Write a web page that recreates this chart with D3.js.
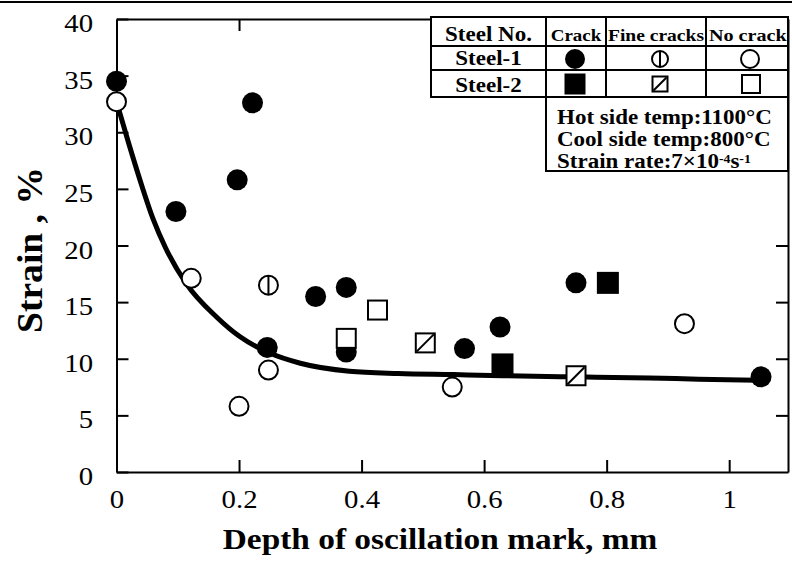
<!DOCTYPE html>
<html>
<head>
<meta charset="utf-8">
<script src="https://cdn.jsdelivr.net/npm/d3@7"></script>
<style>
  body { margin: 0; background: #fff; }
  svg { display: block; }
</style>
</head>
<body>
<svg id="chart" width="792" height="568"></svg>
<script>
// Strain versus depth of oscillation mark, two steels, three crack classes.
const steel1Crack = [[0, 34.5], [0.097, 23.0], [0.197, 25.8], [0.222, 32.6], [0.246, 11.0],
                     [0.325, 15.5], [0.375, 16.3], [0.375, 10.6], [0.568, 10.9], [0.626, 12.8],
                     [0.75, 16.7], [1.052, 8.4]];
const steel1Fine  = [[0.248, 16.5]];
const steel1None  = [[0, 32.7], [0.122, 17.1], [0.2, 5.8], [0.248, 9.0], [0.548, 7.5], [0.927, 13.1]];
const steel2Crack = [[0.63, 9.5], [0.802, 16.7]];
const steel2Fine  = [[0.504, 11.4], [0.75, 8.5]];
const steel2None  = [[0.375, 11.8], [0.426, 14.3]];

// Trend curve through the data
const trendX = [0, 0.02, 0.04, 0.06, 0.08, 0.113, 0.165, 0.2, 0.25, 0.3, 0.38, 0.46, 0.55, 0.63, 0.75, 0.87, 0.95, 1.05];
const trendY = [32.7, 29.0, 25.5, 22.3, 19.8, 16.7, 13.6, 12.0, 10.5, 9.6, 8.9, 8.7, 8.6, 8.5, 8.4, 8.3, 8.2, 8.1];

const xTicks = [0, 0.2, 0.4, 0.6, 0.8, 1];
const yTicks = [0, 5, 10, 15, 20, 25, 30, 35, 40];
const topTicks = [0.2];
const rightTicks = [5, 10, 15, 20];

const xTitle = "Depth of oscillation mark, mm";
const yTitle = "Strain , %";
const legendHead = ["Steel No.", "Crack", "Fine cracks", "No crack"];
const legendRows = ["Steel-1", "Steel-2"];

const SERIF = "'Liberation Serif', 'Times New Roman', serif";
const SX = 1.15; // horizontal stretch of the lettering

const svg = d3.select("#chart");
const x = d3.scaleLinear().domain([0, 1.096]).range([116.5, 788]);
const y = d3.scaleLinear().domain([0, 40]).range([472, 19]);

// page rule along the top edge
svg.append("line").attr("x1", 0).attr("x2", 792).attr("y1", 2).attr("y2", 2)
  .attr("stroke", "#000").attr("stroke-width", 2);

function styleAxis(g) {
  g.attr("font-family", null).attr("font-size", null);
  g.select(".domain").attr("stroke", "#000").attr("stroke-width", 2);
  g.selectAll(".tick line").attr("stroke", "#000").attr("stroke-width", 2);
  g.selectAll(".tick text").attr("fill", "#000")
    .style("font-family", SERIF).style("font-size", "25px");
}

// frame axes, ticks pointing inward
const gBottom = svg.append("g").attr("transform", `translate(0,${y(0)})`)
  .call(d3.axisBottom(x).tickValues(xTicks).tickFormat(d3.format("~g"))
    .tickSize(-12).tickSizeOuter(0).tickPadding(18));
styleAxis(gBottom);
gBottom.selectAll(".tick text").attr("transform", `scale(${SX},1)`);

const leftPad = 23.5;
const gLeft = svg.append("g").attr("transform", `translate(${x(0)},0)`)
  .call(d3.axisLeft(y).tickValues(yTicks).tickFormat(d3.format("d"))
    .tickSize(-12).tickSizeOuter(0).tickPadding(leftPad));
styleAxis(gLeft);
gLeft.selectAll(".tick text").attr("x", -leftPad / SX).attr("dy", "0.5em")
  .attr("transform", `scale(${SX},1)`);

const gTop = svg.append("g").attr("transform", `translate(0,${y(40)})`)
  .call(d3.axisTop(x).tickValues(topTicks).tickFormat("").tickSize(-12).tickSizeOuter(0));
styleAxis(gTop);

const gRight = svg.append("g").attr("transform", `translate(${x.range()[1]},0)`)
  .call(d3.axisRight(y).tickValues(rightTicks).tickFormat("").tickSize(-12).tickSizeOuter(0));
styleAxis(gRight);

// axis titles
svg.append("text")
  .attr("transform", `translate(440,549) scale(${SX},1)`)
  .attr("text-anchor", "middle")
  .style("font-family", SERIF).style("font-size", "29px").style("font-weight", "bold")
  .text(xTitle);

svg.append("text")
  .attr("transform", `translate(42,250) scale(${SX},1) rotate(-90)`)
  .attr("text-anchor", "middle")
  .attr("textLength", 166).attr("lengthAdjust", "spacingAndGlyphs")
  .style("font-family", SERIF).style("font-size", "31px").style("font-weight", "bold")
  .text(yTitle);

// trend curve
const trend = trendX.map((v, i) => [v, trendY[i]]);
svg.append("path")
  .datum(trend)
  .attr("fill", "none").attr("stroke", "#000").attr("stroke-width", 5)
  .attr("stroke-linecap", "round").attr("stroke-linejoin", "round")
  .attr("d", d3.line().x(d => x(d[0])).y(d => y(d[1])).curve(d3.curveMonotoneX));

// marker glyphs
function marker(g, kind, cx, cy, s) {
  const h = s / 2;
  if (kind === "circleFilled") {
    g.append("circle").attr("cx", cx).attr("cy", cy).attr("r", h).attr("fill", "#000");
  } else if (kind === "circleOpen" || kind === "circleFine") {
    g.append("circle").attr("cx", cx).attr("cy", cy).attr("r", h - 1)
      .attr("fill", "#fff").attr("stroke", "#000").attr("stroke-width", 2);
    if (kind === "circleFine") {
      g.append("line").attr("x1", cx).attr("x2", cx).attr("y1", cy - h + 1).attr("y2", cy + h - 1)
        .attr("stroke", "#000").attr("stroke-width", 2);
    }
  } else if (kind === "squareFilled") {
    g.append("rect").attr("x", cx - h).attr("y", cy - h).attr("width", s).attr("height", s).attr("fill", "#000");
  } else {
    g.append("rect").attr("x", cx - h + 1).attr("y", cy - h + 1).attr("width", s - 2).attr("height", s - 2)
      .attr("fill", "#fff").attr("stroke", "#000").attr("stroke-width", 2);
    if (kind === "squareFine") {
      g.append("line").attr("x1", cx - h + 2).attr("y1", cy + h - 2).attr("x2", cx + h - 2).attr("y2", cy - h + 2)
        .attr("stroke", "#000").attr("stroke-width", 2);
    }
  }
}

const series = [
  { data: steel1Crack, kind: "circleFilled", size: 21 },
  { data: steel1None,  kind: "circleOpen",   size: 21 },
  { data: steel1Fine,  kind: "circleFine",   size: 21 },
  { data: steel2None,  kind: "squareOpen",   size: 21 },
  { data: steel2Fine,  kind: "squareFine",   size: 21 },
  { data: steel2Crack, kind: "squareFilled", size: 22 }
];
const gMarks = svg.append("g");
series.forEach(s => s.data.forEach(d => marker(gMarks, s.kind, x(d[0]), y(d[1]), s.size)));

// legend table
const leg = svg.append("g");
const L = { left: 431, c2: 546, c3: 606, c4: 706, right: 788, r0: 17, r1: 46, r2: 70, r3: 97, bottom: 171 };
leg.append("rect").attr("x", L.left).attr("y", L.r0).attr("width", L.right - L.left).attr("height", L.r3 - L.r0).attr("fill", "#fff");
leg.append("rect").attr("x", L.c2).attr("y", L.r3).attr("width", L.right - L.c2).attr("height", L.bottom - L.r3).attr("fill", "#fff");

const rule = (x1, y1, x2, y2) => leg.append("line").attr("x1", x1).attr("y1", y1).attr("x2", x2).attr("y2", y2)
  .attr("stroke", "#000").attr("stroke-width", 2).attr("stroke-linecap", "square");
[L.r0, L.r1, L.r2, L.r3].forEach(r => rule(L.left, r, L.right, r));
rule(L.c2, L.bottom, L.right, L.bottom);
[L.left, L.c3, L.c4].forEach(c => rule(c, L.r0, c, L.r3));
[L.c2, L.right].forEach(c => rule(c, L.r0, c, L.bottom));

function legText(str, tx, ty, size, anchor) {
  return leg.append("text")
    .attr("transform", `translate(${tx},${ty}) scale(${SX},1)`)
    .attr("text-anchor", anchor || "middle")
    .style("font-family", SERIF).style("font-size", size + "px").style("font-weight", "bold")
    .text(str);
}
legText(legendHead[0], (L.left + L.c2) / 2, 41, 20);
legText(legendHead[1], (L.c2 + L.c3) / 2, 41, 16.5);
legText(legendHead[2], (L.c3 + L.c4) / 2, 41, 17);
legText(legendHead[3], 709, 41, 17.5, "start");
legText(legendRows[0], (L.left + L.c2) / 2, 65, 20);
legText(legendRows[1], (L.left + L.c2) / 2, 92, 20);

marker(leg, "circleFilled", 575, 59, 20);
marker(leg, "circleFine", 660, 59, 18);
marker(leg, "circleOpen", 750, 59, 20);
marker(leg, "squareFilled", 575, 84, 21);
marker(leg, "squareFine", 660, 84, 17);
marker(leg, "squareOpen", 751, 84, 20);

legText("Hot side temp:1100°C", 557, 124, 20, "start");
legText("Cool side temp:800°C", 557, 146, 20, "start");
// exponents raised with dy so the line keeps clear of the one above
const rate = legText("Strain rate:7×10", 557, 168, 20, "start");
rate.append("tspan").attr("dy", -5).style("font-size", "12px").text("-4");
rate.append("tspan").attr("dy", 5).text("s");
rate.append("tspan").attr("dy", -5).style("font-size", "12px").text("-1");
</script>
</body>
</html>
